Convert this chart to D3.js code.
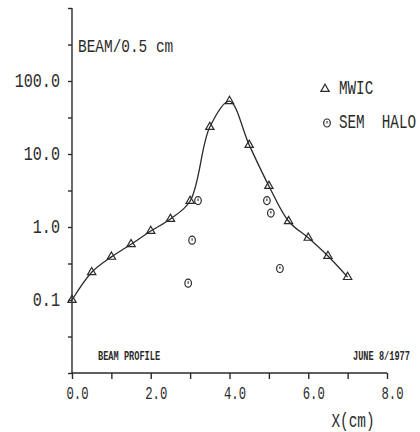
<!DOCTYPE html>
<html><head><meta charset="utf-8">
<script src="https://cdn.jsdelivr.net/npm/d3@7"></script>
<style>body{margin:0;background:#fff}svg{display:block}</style>
</head><body>
<script>
// Data
const mwicX = [0.0, 0.5, 1.0, 1.5, 2.0, 2.5, 3.0, 3.5, 4.0, 4.5, 5.0, 5.5, 6.0, 6.5, 7.0];
const mwicY = [0.1, 0.24, 0.39, 0.58, 0.88, 1.29, 2.27, 23.4, 53, 13.3, 3.65, 1.2, 0.71, 0.40, 0.206];
const haloX = [2.95, 3.05, 3.2, 4.95, 5.05, 5.28];
const haloY = [0.17, 0.66, 2.3, 2.3, 1.55, 0.27];
const xTicks = [0, 1, 2, 3, 4, 5, 6, 7, 8];
const xLabels = [0, 2, 4, 6, 8];
const yLabels = [100, 10, 1, 0.1];
const yMinorTicks = [1000, 316.2, 100, 31.62, 10, 3.162, 1, 0.3162, 0.1, 0.03162, 0.01];
const legendNames = ["MWIC", "SEM\u00a0\u00a0HALO"];

const W = 420, H = 432, ink = "#2a2a2a";
const svg = d3.select("body").append("svg").attr("width", W).attr("height", H);
const x = d3.scaleLinear().domain([0, 8]).range([72, 387]);
const y = d3.scaleLog().domain([0.01, 1000]).range([373, 8]);

function txt(px, py, s, size, anchor, sx, weight) {
  const g = svg.append("g").attr("transform", `translate(${px},${py}) scale(${sx},1)`);
  g.append("text").text(s)
    .attr("font-family", "Liberation Mono, DejaVu Sans Mono, monospace")
    .attr("font-size", size).attr("font-weight", weight || "normal")
    .attr("text-anchor", anchor).attr("dominant-baseline", "central")
    .attr("fill", ink);
}

// Axes
const yAxis = d3.axisLeft(y).tickValues(yMinorTicks).tickSize(4).tickFormat("");
const ga = svg.append("g").attr("transform", "translate(72,0)").call(yAxis);
ga.select(".domain").attr("d", `M0,${y(1000)}V${y(0.01)}`);
ga.selectAll("path,line").attr("stroke", ink).attr("stroke-width", 1.4);

const xAxis = d3.axisBottom(x).tickValues(xTicks).tickSize(6).tickFormat("");
const gx = svg.append("g").attr("transform", "translate(0,373)").call(xAxis);
gx.select(".domain").attr("d", `M${x(0)},0H${x(8)}`);
gx.selectAll("path,line").attr("stroke", ink).attr("stroke-width", 1.4);

yLabels.forEach(v => txt(60, y(v), v.toFixed(1), 21, "end", 0.72));
xLabels.forEach(v => txt(x(v) + 5.5, 394, v.toFixed(1), 18, "middle", 0.68));

txt(78, 47, "BEAM/0.5 cm", 19, "start", 0.76);
txt(353, 421, "X(cm)", 20, "middle", 0.72);
txt(98, 357, "BEAM PROFILE", 12, "start", 0.72, "bold");
txt(353, 357, "JUNE 8/1977", 12, "start", 0.72, "bold");

// Curve through MWIC points
const pts = mwicX.map((d, i) => [x(d), y(mwicY[i])]);
svg.append("path").attr("d", d3.line().curve(d3.curveCatmullRom.alpha(0.5))(pts))
  .attr("fill", "none").attr("stroke", ink).attr("stroke-width", 1.3);

const tri = d3.symbol().type(d3.symbolTriangle).size(30);
function triangle(px, py) {
  svg.append("path").attr("d", tri()).attr("transform", `translate(${px},${py})`)
    .attr("fill", "none").attr("stroke", ink).attr("stroke-width", 1.2);
}
function halo(px, py) {
  svg.append("ellipse").attr("cx", px).attr("cy", py).attr("rx", 3.3).attr("ry", 4)
    .attr("fill", "none").attr("stroke", ink).attr("stroke-width", 1.2);
  svg.append("line").attr("x1", px).attr("x2", px).attr("y1", py - 2).attr("y2", py + 0.5)
    .attr("stroke", ink).attr("stroke-width", 1.1);
}
pts.forEach(p => triangle(p[0], p[1]));
haloX.forEach((d, i) => halo(x(d), y(haloY[i])));

// Legend
triangle(325, 89);
txt(339, 88, legendNames[0], 21, "start", 0.68);
halo(327, 123);
txt(339, 122, legendNames[1], 21, "start", 0.68);
</script>
</body></html>
